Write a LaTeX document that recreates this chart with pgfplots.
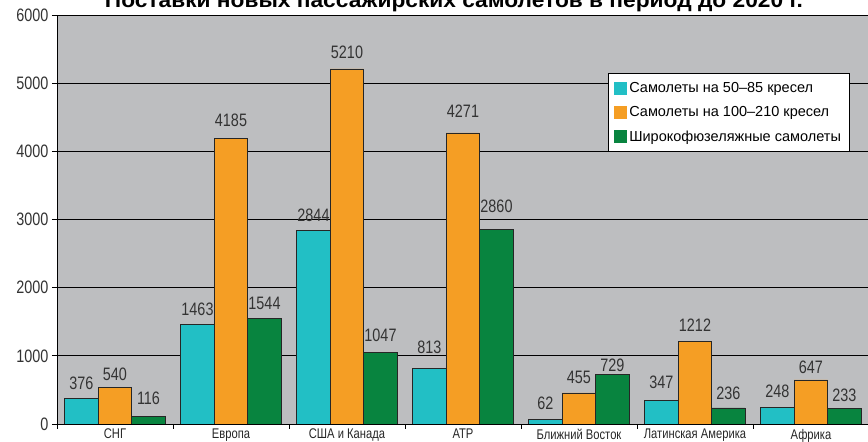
\documentclass[border=0pt]{standalone}
\usepackage{fontspec}
\setmainfont{Liberation Sans}
\newfontfamily\narrow[FakeStretch=0.8]{Liberation Sans}
\usepackage{pgfplots}
\pgfplotsset{compat=1.18}
\usepackage{pgfplotstable}
\definecolor{cyanb}{HTML}{22BFC5}
\definecolor{orangeb}{HTML}{F59E24}
\definecolor{greenb}{HTML}{08843F}
\definecolor{bg}{HTML}{BDBEC0}
\definecolor{txt}{HTML}{333333}

\pgfplotstableread{
x y g
0 376 8
1 1463 8
2 2844 8
3 813 15
4 62 10
5 347 11
6 248 9
}\tA
\pgfplotstableread{
x y g
0 540 6
1 4185 12
2 5210 10
3 4271 15
4 455 9
5 1212 10
6 647 6
}\tB
\pgfplotstableread{
x y g
0 116 11
1 1544 9
2 1047 11
3 2860 16
4 729 2
5 236 8
6 233 6
}\tC

\begin{document}
\begin{tikzpicture}
\begin{axis}[
  at={(57pt,18pt)}, anchor=south west,
  scale only axis, width=812pt, height=409pt,
  xmin=-0.5, xmax=6.5, ymin=0, ymax=6000,
  ybar=0pt, bar width=33.5pt,
  axis background/.style={fill=bg},
  axis x line*=bottom, axis y line*=left,
  axis line style={black, line width=0.8pt},
  tick align=outside,
  major tick length=5pt,
  tick style={black, line width=0.8pt},
  ytick={0,1000,...,6000},
  ymajorgrids,
  major grid style={black, line width=0.8pt},
  xtick={-0.5,0.5,...,6.5},
  xticklabels={},
  extra x ticks={0,1,2,3,4,5,6},
  extra x tick labels={СНГ,Европа,США и Канада,АТР,Ближний Восток,Латинская Америка,Африка},
  extra x tick style={major tick length=0pt, grid=none},
  xticklabel style={font=\narrow\fontsize{14}{16}\selectfont, text=black!85, yshift=-1.5pt},
  yticklabel style={font=\narrow\fontsize{18}{20}\selectfont, text=txt},
  /pgf/number format/1000 sep={},
  /pgf/number format/assume math mode=true,
  nodes near coords,
  every node near coord/.append style={font=\narrow\fontsize{18}{20}\selectfont, text=txt, anchor=south, inner sep=0pt},
  legend style={at={(0.6786,0.858)}, anchor=north west, draw=black, line width=0.6pt, fill=white,
    font=\fontsize{14.5}{17}\selectfont, row sep=8.5pt, inner xsep=6pt, inner ysep=7pt,
    text=black},
  legend cell align=left,
  legend image code/.code={\path[#1, draw=none] (0pt,-6.5pt) rectangle (13pt,6.5pt);},
  every axis plot/.append style={draw=black!85, line width=0.7pt},
]
\addplot[fill=cyanb, visualization depends on={\thisrow{g}\as\gap},
  every node near coord/.append style={yshift=\gap pt}] table[x=x,y=y] {\tA};
\addplot[fill=orangeb, visualization depends on={\thisrow{g}\as\gap},
  every node near coord/.append style={yshift=\gap pt}] table[x=x,y=y] {\tB};
\addplot[fill=greenb, visualization depends on={\thisrow{g}\as\gap},
  every node near coord/.append style={yshift=\gap pt}] table[x=x,y=y] {\tC};
\legend{Самолеты на 50--85 кресел, Самолеты на 100--210 кресел, Широкофюзеляжные самолеты}
\end{axis}
\node[anchor=base, inner sep=0pt] at (454pt,434pt)
  {\resizebox{698pt}{\height}{\bfseries\fontsize{21}{24}\selectfont Поставки новых пассажирских самолетов в период до 2020 г.}};
\pgfresetboundingbox
\useasboundingbox (0,0) rectangle (868pt,442pt);
\end{tikzpicture}
\end{document}
